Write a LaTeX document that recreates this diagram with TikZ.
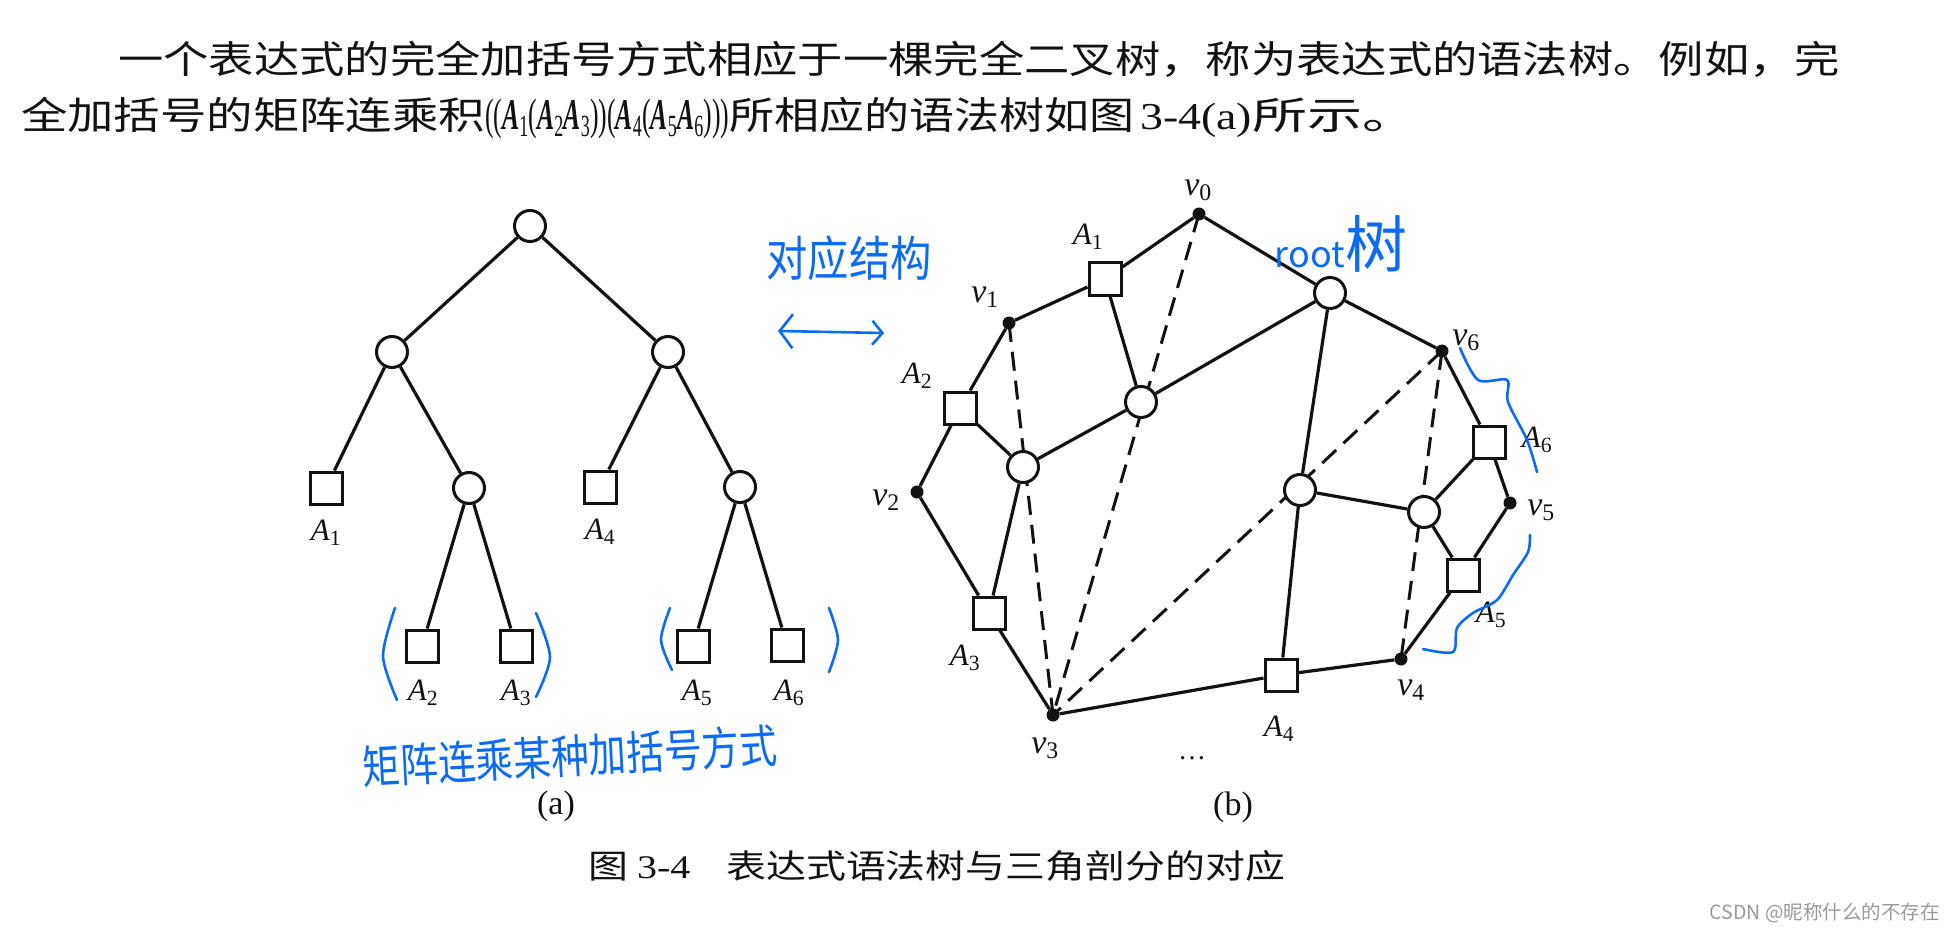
\documentclass[tikz,border=0pt]{standalone}
\usepackage{fix-cm}
\usepackage{fontspec}
\setmainfont{Liberation Serif}
\newfontfamily\cjk{Noto Sans CJK SC}
\usepackage{xcolor}
\usepackage{tikz}
\usetikzlibrary{arrows.meta,backgrounds}
\definecolor{inkblk}{rgb}{0.07,0.07,0.07}
\definecolor{penblue}{rgb}{0.04,0.42,0.97}
\definecolor{wmgray}{rgb}{0.60,0.60,0.60}
\newcommand{\msub}[2]{\textit{#1}\textsubscript{#2}}
\newcommand{\bsub}[2]{\textbf{\textit{#1}}\textsubscript{#2}}

\begin{document}
\begin{tikzpicture}[
  x=1pt, y=-1pt,
  inode/.style={circle, draw=inkblk, fill=white, line width=3pt,
                minimum size=31pt, inner sep=0pt},
  leaf/.style={rectangle, draw=inkblk, fill=white, line width=3pt,
               minimum size=32pt, inner sep=0pt},
  vtx/.style={circle, fill=inkblk, minimum size=13pt, inner sep=0pt},
  tline/.style={inkblk, line width=3.2pt},
  chord/.style={inkblk, line width=3pt, dash pattern=on 19pt off 10pt},
  lbl/.style={inner sep=0pt, text=inkblk, font=\fontsize{31}{33}\selectfont},
  vlbl/.style={lbl, font=\fontsize{34}{36}\selectfont},
  body/.style={inner sep=0pt, anchor=west, text=inkblk, font=\cjk\fontsize{38}{40}\selectfont},
  pen/.style={penblue, line width=2.6pt, line cap=round, line join=round},
  hand/.style={inner sep=0pt, text=penblue, font=\cjk}
]
\useasboundingbox (0,0) rectangle (1956,933);

% text of the page
\node[body] (para1) at (118,59)
  {\resizebox{1722pt}{\height}{一个表达式的完全加括号方式相应于一棵完全二叉树，称为表达式的语法树。例如，完}};
\node[body] (para2) at (21,118)
  {\resizebox{464pt}{\height}{全加括号的矩阵连乘积}%
   \resizebox{244pt}{\height}{\rmfamily\fontsize{44}{46}\selectfont((\bsub{A}{1}(\bsub{A}{2}\bsub{A}{3}))(\bsub{A}{4}(\bsub{A}{5}\bsub{A}{6})))}%
   \resizebox{405pt}{\height}{所相应的语法树如图}\hspace{6pt}%
   \resizebox{112pt}{\height}{\rmfamily 3-4(a)}%
   \resizebox{165pt}{\height}{所示。}};

% (a) syntax tree
\node[inode] (ra) at (530,226) {};
\node[inode] (la) at (392,352) {};
\node[inode] (rb) at (668,352) {};
\node[leaf]  (a1) at (326,488) {};
\node[inode] (lc) at (469,488) {};
\node[leaf]  (a4) at (600,487) {};
\node[inode] (rc) at (740,487) {};
\node[leaf]  (a2) at (422,646) {};
\node[leaf]  (a3) at (516,646) {};
\node[leaf]  (a5) at (693,646) {};
\node[leaf]  (a6) at (787,645) {};

\node[lbl] (la1) at (326,533) {\msub{A}{1}};
\node[lbl] (la4) at (600,532) {\msub{A}{4}};
\node[lbl] (la2) at (423,693) {\msub{A}{2}};
\node[lbl] (la3) at (516,693) {\msub{A}{3}};
\node[lbl] (la5) at (697,693) {\msub{A}{5}};
\node[lbl] (la6) at (789,693) {\msub{A}{6}};
\node[vlbl] (capa) at (556,806) {(a)};

% (b) triangulated polygon
\node[vtx] (v0) at (1199,214) {};
\node[vtx] (v1) at (1009,323) {};
\node[vtx] (v2) at (917,492) {};
\node[vtx] (v3) at (1053,715) {};
\node[vtx] (v4) at (1401,659) {};
\node[vtx] (v5) at (1510,503) {};
\node[vtx] (v6) at (1442,351) {};

\node[leaf] (b1) at (1105,279) {};
\node[leaf] (b2) at (960,408) {};
\node[leaf] (b3) at (989,613) {};
\node[leaf] (b4) at (1281,675) {};
\node[leaf] (b5) at (1463,575) {};
\node[leaf] (b6) at (1489,442) {};

\node[inode] (broot) at (1330,293) {};
\node[inode] (bm1) at (1141,402) {};
\node[inode] (bm2) at (1023,467) {};
\node[inode] (bm3) at (1300,490) {};
\node[inode] (bm4) at (1424,512) {};

\node[vlbl] (lv0) at (1198,190) {\msub{v}{0}};
\node[vlbl] (lv1) at (985,297) {\msub{v}{1}};
\node[vlbl] (lv2) at (886,500) {\msub{v}{2}};
\node[vlbl] (lv3) at (1045,748) {\msub{v}{3}};
\node[vlbl] (lv4) at (1411,690) {\msub{v}{4}};
\node[vlbl] (lv5) at (1541,510) {\msub{v}{5}};
\node[vlbl] (lv6) at (1466,340) {\msub{v}{6}};
\node[lbl] (lb1) at (1088,237) {\msub{A}{1}};
\node[lbl] (lb2) at (917,376) {\msub{A}{2}};
\node[lbl] (lb3) at (965,658) {\msub{A}{3}};
\node[lbl] (lb4) at (1279,729) {\msub{A}{4}};
\node[lbl] (lb5) at (1491,615) {\msub{A}{5}};
\node[lbl] (lb6) at (1537,440) {\msub{A}{6}};
\node[lbl, font=\fontsize{28}{30}\selectfont] (dots) at (1192,758) {\ldots};
\node[vlbl] (capb) at (1233,807) {(b)};

\begin{scope}[on background layer]
  \draw[tline] (ra) -- (la);
  \draw[tline] (ra) -- (rb);
  \draw[tline] (la) -- (a1);
  \draw[tline] (la) -- (lc);
  \draw[tline] (lc) -- (a2);
  \draw[tline] (lc) -- (a3);
  \draw[tline] (rb) -- (a4);
  \draw[tline] (rb) -- (rc);
  \draw[tline] (rc) -- (a5);
  \draw[tline] (rc) -- (a6);
  % chords of the triangulation
  \draw[chord] (v1.center) -- (v3.center);
  \draw[chord] (v0.center) -- (v3.center);
  \draw[chord] (v6.center) -- (v3.center);
  \draw[chord] (v6.center) -- (v4.center);
  % sides of the polygon
  \draw[tline] (v0) -- (b1) -- (v1) -- (b2) -- (v2) -- (b3) -- (v3)
               -- (b4) -- (v4) -- (b5) -- (v5) -- (b6) -- (v6) -- (broot) -- (v0);
  % tree inside the polygon
  \draw[tline] (broot) -- (bm1);
  \draw[tline] (broot) -- (bm3);
  \draw[tline] (bm1) -- (b1);
  \draw[tline] (bm1) -- (bm2);
  \draw[tline] (bm2) -- (b2);
  \draw[tline] (bm2) -- (b3);
  \draw[tline] (bm3) -- (b4);
  \draw[tline] (bm3) -- (bm4);
  \draw[tline] (bm4) -- (b5);
  \draw[tline] (bm4) -- (b6);
\end{scope}

\node[body, font=\cjk\fontsize{33}{35}\selectfont] (caption) at (588,866)
  {\resizebox{697pt}{\height}{图 {\rmfamily 3-4}\hspace{0.9em}表达式语法树与三角剖分的对应}};

% handwritten notes
\node[hand, font=\cjk\fontsize{48}{50}\selectfont] (note1) at (849,258)
  {\scalebox{0.86}[1]{对应结构}};
\coordinate (hl) at (778,331);
\coordinate (hr) at (884,333);
\draw[pen, {Straight Barb[length=13pt,width=34pt]}-{Straight Barb[length=10pt,width=24pt]}] (hl) -- (hr);
\node[hand, anchor=base] (note2) at (1341,268)
  {{\fontsize{36}{38}\selectfont root}{\fontsize{62}{64}\selectfont 树}};
\node[hand, font=\cjk\fontsize{46}{48}\selectfont, rotate=3] (note3) at (570,756)
  {\scalebox{0.82}[1]{矩阵连乘某种加括号方式}};

\draw[pen] plot[smooth] coordinates {(395,608) (383,656) (397,700)};
\draw[pen] plot[smooth] coordinates {(536,613) (550,657) (536,697)};
\draw[pen] plot[smooth] coordinates {(670,608) (661,640) (672,670)};
\draw[pen] plot[smooth] coordinates {(829,608) (838,640) (829,672)};
\draw[pen] plot[smooth, tension=0.5] coordinates
  {(1460,348) (1478,380) (1507,380) (1508,402) (1527,440) (1537,472)};
\draw[pen] plot[smooth, tension=0.5] coordinates
  {(1530,535) (1528,552) (1513,575) (1497,600) (1473,613) (1457,628) (1453,652) (1423,649)};

\node[anchor=east, inner sep=0pt, text=wmgray, font=\cjk\fontsize{19.5}{21}\selectfont]
  (mark) at (1940,913) {CSDN @昵称什么的不存在};
\end{tikzpicture}
\end{document}
